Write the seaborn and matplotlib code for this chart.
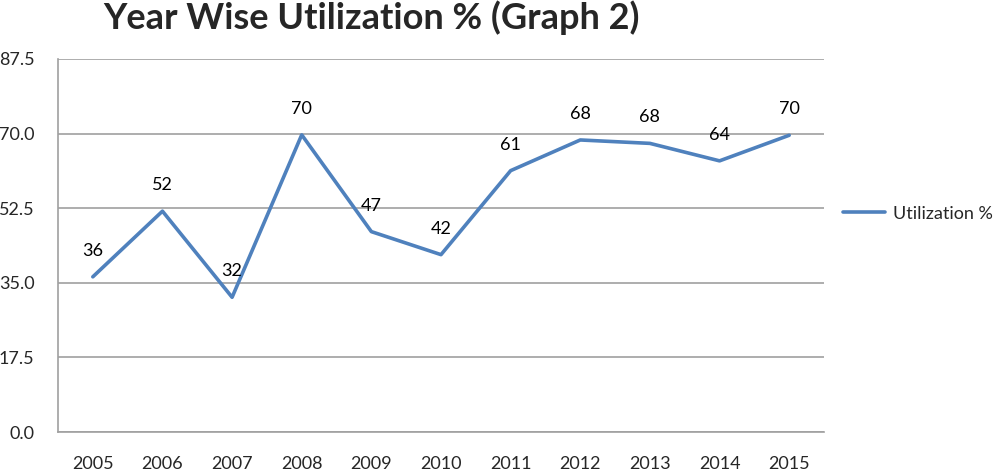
import pandas as pd
import matplotlib
matplotlib.use("Agg")
import matplotlib.pyplot as plt
import seaborn as sns

years = ['2005', '2006', '2007', '2008', '2009', '2010',
         '2011', '2012', '2013', '2014', '2015']
utilization = [36.4, 51.8, 31.6, 69.7, 47.0, 41.6, 61.3, 68.5, 67.7, 63.6, 69.6]
yticks = [0.0, 17.5, 35.0, 52.5, 70.0, 87.5]

df = pd.DataFrame({'pos': range(len(years)), 'Year': years,
                   'Utilization %': utilization})

sns.set_style("white")
plt.rcParams['font.family'] = ['Lato', 'DejaVu Sans']

fig = plt.figure(figsize=(10, 4.74), dpi=100)
ax = fig.add_axes([0.058, 0.0886, 0.766, 0.787])

sns.lineplot(data=df, x='pos', y='Utilization %', ax=ax, color='#4F81BD',
             linewidth=2.6, label='Utilization %')

for p, v in zip(df['pos'], df['Utilization %']):
    ax.annotate(f"{v:.0f}", (p, v), xytext=(0, 13), textcoords='offset points',
                ha='center', va='bottom', fontsize=13, color='black')

ax.set_xlim(-0.5, len(years) - 0.5)
ax.set_ylim(0, 87.5)
ax.set_yticks(yticks)
ax.set_yticklabels([f"{t:.1f}" for t in yticks], fontsize=13)
ax.set_xticks(range(len(years)))
ax.set_xticklabels(years, fontsize=13)
ax.set_xticks([i - 0.5 for i in range(len(years) + 1)], minor=True)
ax.tick_params(axis='x', which='major', length=0, pad=17)
ax.tick_params(axis='x', which='minor', length=5, color='#A0A0A0', width=1.2,
               direction='out')
ax.tick_params(axis='y', length=5, color='#A0A0A0', width=1.2,
               direction='out', pad=12)
ax.set_xlabel('')
ax.set_ylabel('')
ax.yaxis.grid(True, color='#A0A0A0', linewidth=1.2)
ax.set_axisbelow(True)
for s in ['top', 'right']:
    ax.spines[s].set_visible(False)
for s in ['left', 'bottom']:
    ax.spines[s].set_color('#A0A0A0')
    ax.spines[s].set_linewidth(1.2)

leg = ax.legend(loc='center left', bbox_to_anchor=(1.006, 0.585), frameon=False,
                fontsize=13, handlelength=2.3, handletextpad=0.45,
                borderaxespad=0.4)

fig.text(0.103, 0.962, 'Year Wise Utilization % (Graph 2)', fontsize=26,
         fontweight='bold', ha='left', va='center')

fig.savefig('out.png', dpi=100)
